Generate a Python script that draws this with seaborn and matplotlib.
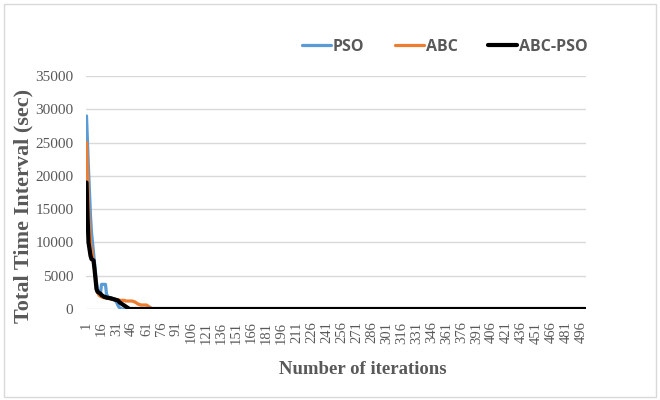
import numpy as np
import pandas as pd
import matplotlib.pyplot as plt
import seaborn as sns
from matplotlib.patches import Rectangle

n_iter = 500
iterations = list(range(1, n_iter + 1))

# values for the first iterations, rest of each curve is 0
pso_head = [29000, 25000, 21000, 17500, 14000, 11500, 10000, 8500, 7000, 5500,
            4000, 3000, 2500, 2400, 2300, 3700, 3700, 3700, 3700, 3700,
            2200, 2000, 1800, 1700, 1700, 1600, 1500, 1500, 1400, 1300,
            1000, 700, 400, 200, 100]
abc_head = [25000, 20000, 15500, 12000, 10000, 9000, 8000, 7200, 6000, 5000,
            3000, 2500, 2200, 2000, 1900, 1800, 1800, 1700, 1700, 1700,
            1600, 1600, 1600, 1600, 1500, 1500, 1500, 1500, 1500, 1400,
            1400, 1400, 1400, 1300, 1300, 1300, 1300, 1300, 1300, 1200,
            1200, 1200, 1200, 1200, 1200, 1200, 1200, 1100, 1100, 1000,
            900, 800, 700, 700, 600, 600, 600, 600, 600, 600,
            600, 500, 400, 300, 200, 100]
hybrid_head = [19000, 14000, 10000, 9000, 8000, 7500, 7400, 7300, 6000, 4500,
               3000, 2600, 2500, 2400, 2300, 2100, 2000, 1900, 1800, 1800,
               1700, 1700, 1650, 1650, 1600, 1600, 1500, 1500, 1400, 1400,
               1350, 1300, 1200, 1000, 900, 800, 700, 600, 500, 400,
               300, 200, 100]

def pad(head):
    return head + [0] * (n_iter - len(head))

pso = pad(pso_head)
abc = pad(abc_head)
hybrid = pad(hybrid_head)

series_names = ['PSO', 'ABC', 'ABC-PSO']
colors = ['#5b9bd5', '#ed7d31', '#000000']
widths = [2.3, 2.3, 3.0]

df = pd.DataFrame({
    'iteration': iterations * 3,
    'value': pso + abc + hybrid,
    'algo': ['PSO'] * n_iter + ['ABC'] * n_iter + ['ABC-PSO'] * n_iter,
})

sns.set_style('white')
plt.rcParams['font.family'] = ['Liberation Serif', 'DejaVu Serif']

fig = plt.figure(figsize=(6.6, 4), dpi=100)
ax = fig.add_axes([86 / 660, 1 - 309 / 400, 500 / 660, 233 / 400])

for name, col, lw in zip(series_names, colors, widths):
    d = df[df.algo == name]
    sns.lineplot(data=d, x='iteration', y='value', color=col, linewidth=lw,
                 label=name, ax=ax, solid_capstyle='round')

ax.set_xlim(0.5, n_iter + 0.5)
ax.set_ylim(0, 35000)
ax.set_yticks(range(0, 35001, 5000))
ax.set_xticks(iterations[::15])
ax.set_xticklabels([str(i) for i in iterations[::15]], rotation=90)
ax.yaxis.grid(True, color='#d9d9d9', linewidth=1)
ax.set_axisbelow(True)
for s in ax.spines.values():
    s.set_visible(False)
ax.tick_params(axis='y', length=0, labelsize=11, colors='#595959', pad=9)
ax.tick_params(axis='x', length=0, labelsize=10.5, colors='#595959', pad=9)

ax.set_xlabel('Number of iterations', fontsize=13.5, fontweight='bold',
              color='#595959')
ax.xaxis.set_label_coords((363 - 86) / 500, -(369 - 309) / 233)
ax.xaxis.label.set_va('center')
ax.set_ylabel('Total Time Interval (sec)', fontsize=16, fontweight='bold',
              color='#595959')
ax.yaxis.set_label_coords(-(86 - 23) / 500, (309 - 206) / 233)
ax.yaxis.label.set_va('center')

ax.legend(loc='center right', bbox_to_anchor=(588 / 660, 1 - 47 / 400),
          bbox_transform=fig.transFigure, ncol=3, frameon=False,
          borderaxespad=0, borderpad=0,
          handlelength=1.8, columnspacing=1.9, handletextpad=0.15,
          prop={'family': 'Open Sans', 'weight': 'bold', 'size': 11.5},
          labelcolor='#595959')

fig.patches.append(Rectangle((4 / 660, 3 / 400), 652 / 660, 393 / 400,
                             transform=fig.transFigure, fill=False,
                             edgecolor='#d9d9d9', linewidth=1))

fig.savefig('out.png', dpi=100)
